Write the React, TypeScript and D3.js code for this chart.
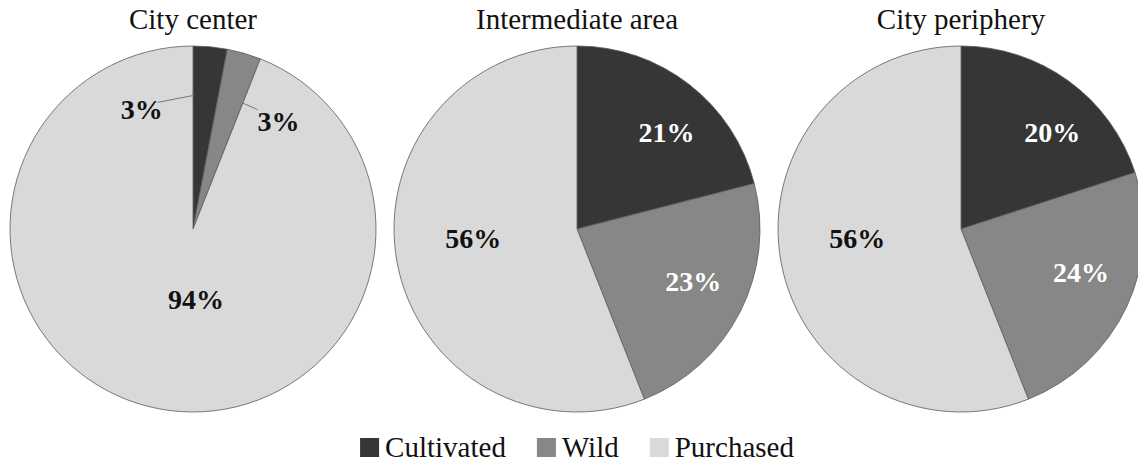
import React, { useEffect, useRef } from 'react';
import * as d3 from 'd3';

const categories = ['Cultivated', 'Wild', 'Purchased'];
const areas = ['City center', 'Intermediate area', 'City periphery'];
const cityCenter = [3, 3, 94];
const intermediate = [21, 23, 56];
const periphery = [20, 24, 56];
const colors = ['#363636', '#878787', '#d9d9d9'];

interface Slice {
  category: string;
  value: number;
}

export default function App() {
  const ref = useRef<SVGSVGElement>(null);

  useEffect(() => {
    const width = 1138;
    const height = 463;
    const radius = 183;
    const cy = 229;
    const centers = [193, 577, 961];
    const font = '"Liberation Serif", "Times New Roman", serif';

    const svg = d3.select(ref.current);
    svg.selectAll('*').remove();

    const color = d3.scaleOrdinal<string, string>().domain(categories).range(colors);
    const pie = d3
      .pie<Slice>()
      .sort(null)
      .value((d) => d.value);
    const arc = d3.arc<d3.PieArcDatum<Slice>>().innerRadius(0).outerRadius(radius);
    const labelArc = d3
      .arc<d3.PieArcDatum<Slice>>()
      .innerRadius(radius * 0.7)
      .outerRadius(radius * 0.7);

    // small nudges so labels sit where the original placed them
    const nudges = [
      [[0, 0], [0, 0], [27, -56]],
      [[11, 4], [2, -6], [22, -15]],
      [[16, 7], [4, -11], [22, -15]],
    ];
    const whiteLabel = [
      [false, false, false],
      [true, true, false],
      [true, true, false],
    ];

    [cityCenter, intermediate, periphery].forEach((values, i) => {
      const data: Slice[] = categories.map((c, j) => ({ category: c, value: values[j] }));
      const arcs = pie(data);
      const g = svg.append('g').attr('transform', `translate(${centers[i]},${cy})`);

      g.selectAll('path')
        .data(arcs)
        .enter()
        .append('path')
        .attr('d', arc)
        .attr('fill', (d) => color(d.data.category))
        .attr('stroke', '#5a5a5a')
        .attr('stroke-width', 0.8);

      svg
        .append('text')
        .attr('x', centers[i])
        .attr('y', 29)
        .attr('text-anchor', 'middle')
        .attr('font-family', font)
        .attr('font-size', 29)
        .attr('fill', '#111')
        .text(areas[i]);

      arcs.forEach((a, j) => {
        const label = `${a.data.value}%`;
        if (i === 0 && j < 2) {
          // tiny slices: label outside with leader line
          const ang = j === 0 ? a.startAngle + 0.005 : a.endAngle - 0.01;
          const rr = radius * (j === 0 ? 0.73 : 0.74);
          const px = Math.sin(ang) * rr;
          const py = -Math.cos(ang) * rr;
          const lx = j === 0 ? px - 52 : px + 37;
          const ly = j === 0 ? py + 14 : py + 19;
          g.append('line')
            .attr('x1', px)
            .attr('y1', py)
            .attr('x2', j === 0 ? lx + 16 : lx - 21)
            .attr('y2', j === 0 ? ly - 7 : ly - 12)
            .attr('stroke', '#777')
            .attr('stroke-width', 1);
          g.append('text')
            .attr('x', lx)
            .attr('y', ly)
            .attr('dy', '0.35em')
            .attr('text-anchor', 'middle')
            .attr('font-family', font)
            .attr('font-weight', 'bold')
            .attr('font-size', 28)
            .attr('fill', '#111')
            .text(label);
          return;
        }
        const [x, y] = labelArc.centroid(a);
        g.append('text')
          .attr('x', x + nudges[i][j][0])
          .attr('y', y + nudges[i][j][1])
          .attr('dy', '0.35em')
          .attr('text-anchor', 'middle')
          .attr('font-family', font)
          .attr('font-weight', 'bold')
          .attr('font-size', 28)
          .attr('fill', whiteLabel[i][j] ? '#fff' : '#111')
          .text(label);
      });
    });

    // legend centred under the middle pie
    const box = 19;
    const legend = svg.append('g');
    let cursor = 0;
    categories.forEach((c, j) => {
      const item = legend.append('g').attr('transform', `translate(${cursor},0)`);
      item
        .append('rect')
        .attr('x', 0)
        .attr('y', -box)
        .attr('width', box)
        .attr('height', box)
        .attr('fill', color(c));
      const t = item
        .append('text')
        .attr('x', box + 6)
        .attr('y', 0)
        .attr('font-family', font)
        .attr('font-size', 29)
        .attr('fill', '#111')
        .text(c);
      const w = (t.node() as SVGTextElement).getComputedTextLength();
      cursor += box + 6 + w + (j < categories.length - 1 ? 31 : 0);
    });
    legend.attr('transform', `translate(${centers[1] - cursor / 2},457)`);

    svg.attr('width', width).attr('height', height);
  }, []);

  return (
    <svg
      ref={ref}
      width={1138}
      height={463}
      style={{ position: 'absolute', left: 0, top: 0, background: '#fff' }}
    />
  );
}
